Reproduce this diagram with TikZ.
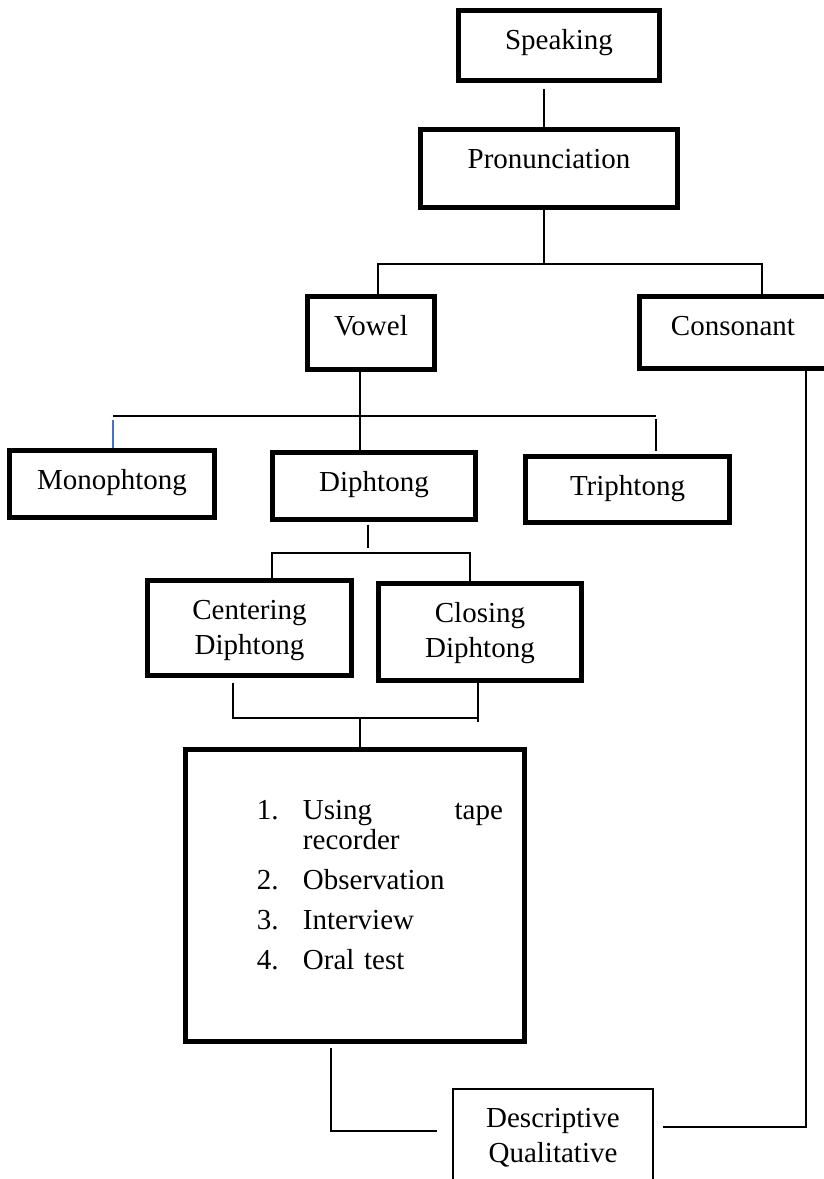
\documentclass[tikz,border=0pt]{standalone}
\usepackage{fontspec}
\setmainfont{Liberation Serif}
\definecolor{wordblue}{RGB}{68,114,196}
\newcommand{\itm}[2]{\hspace*{53.6pt}\makebox[34.5pt][l]{#1}#2}

\tikzset{
  blk/.style={draw, line width=3.75pt, inner sep=0pt, align=center,
    font=\fontsize{21.75}{26.25}\selectfont, text height=28.9pt},
  sz/.style 2 args={minimum width={(#1-5)*0.75pt}, minimum height={(#2-5)*0.75pt},
    text depth={(#2-43.5)*0.75pt}},
  twoline/.style={text height=55.15pt, text depth={(#1-5)*0.75pt-55.15pt}},
  link/.style={line width=1.6pt}
}

\begin{document}
\begin{tikzpicture}[x=0.75pt, y=-0.75pt]
  \useasboundingbox (0,0) rectangle (824,1179);
  \clip (0,0) rectangle (824,1179);

  \node[blk, sz={206}{75}]  (spk)  at (559,45.5)   {Speaking};
  \node[blk, sz={262}{83}]  (pron) at (549,168.5)  {Pronunciation};
  \node[blk, sz={132}{78}]  (vow)  at (371,333)    {Vowel};
  \node[blk, sz={192}{77}]  (cons) at (733,332.5)  {Consonant};
  \node[blk, sz={210}{72}]  (mono) at (112,484)    {Monophtong};
  \node[blk, sz={208}{72}]  (diph) at (374,486)    {Diphtong};
  \node[blk, sz={209}{71}]  (tri)  at (627.5,489.5) {Triphtong};
  \node[blk, sz={209}{100}, twoline=100] (cent) at (249.5,628) {Centering\\Diphtong};
  \node[blk, sz={208}{102}, twoline=102] (clos) at (480,632)   {Closing\\Diphtong};
  \node[blk, sz={344}{297}, text height=52.5pt, text depth=166.5pt,
    text width=254.25pt, align=left, font=\fontsize{21.75}{22.5}\selectfont]
    (meth) at (355,895.5) {\noindent\itm{1.}{\makebox[150pt][s]{Using\hfill tape}}\\
      \itm{}{recorder}\\[7.5pt]
      \itm{2.}{Observation}\\[7.5pt]
      \itm{3.}{Interview}\\[7.5pt]
      \itm{4.}{Oral test}};
  \node[blk, line width=1.5pt, minimum width=150pt, minimum height=82.5pt,
    text height=54.75pt, text depth=27.75pt] (desc) at (553,1144) {Descriptive\\Qualitative};

  \coordinate (ja) at (544,264);
  \coordinate (jal) at (378,264);
  \coordinate (jar) at (762,264);
  \draw[link, shorten <=4.5pt] (spk.south -| ja) -- (pron.north -| ja);
  \draw[link] (pron.south -| ja) -- (ja);
  \draw[link] (vow.north -| jal) -- (jal) -- (jar) -- (cons.north -| jar);

  \coordinate (jbl) at (113,416);
  \coordinate (jbr) at (656,416);
  \coordinate (jbv) at (360,416);
  \draw[link] (jbl) -- (jbr);
  \draw[link] (vow.south -| jbv) -- (diph.north -| jbv);
  \draw[wordblue, line width=1.1pt, shorten <=3pt] (jbl) -- (mono.north -| jbl);
  \draw[link, shorten <=2.2pt, shorten >=2pt] (jbr) -- (tri.north -| jbr);

  \coordinate (jcl) at (272,553);
  \coordinate (jcr) at (470,553);
  \coordinate (jcv) at (368,553);
  \draw[link] (cent.north -| jcl) -- (jcl) -- (jcr) -- (clos.north -| jcr);
  \draw[link, shorten <=2pt, shorten >=3.5pt] (diph.south -| jcv) -- (jcv);

  \coordinate (jdl) at (233,718);
  \coordinate (jdr) at (478,718);
  \coordinate (jdv) at (360,718);
  \draw[link, shorten <=3.5pt] (cent.south -| jdl) -- (jdl) -- (jdr);
  \draw[link, shorten >=-3pt] (clos.south -| jdr) -- (jdr);
  \draw[link] (jdv) -- (meth.north -| jdv);

  \coordinate (je) at (331,1131);
  \coordinate (jf) at (806,1127);
  \draw[link, shorten <=3pt, shorten >=11pt] (meth.south -| je) -- (je) -- (desc.west |- je);
  \draw[link, shorten >=6.5pt] (cons.south -| jf) -- (jf) -- (desc.east |- jf);
\end{tikzpicture}
\end{document}
